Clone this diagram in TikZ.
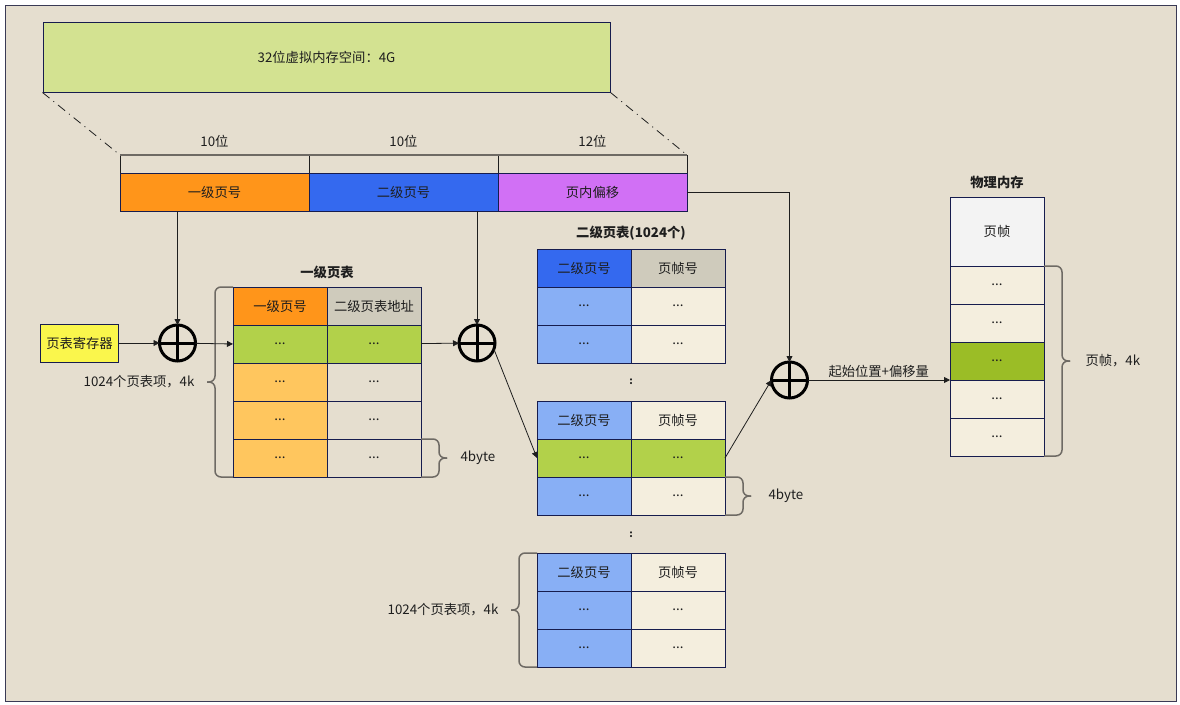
\documentclass[tikz,border=0pt]{standalone}
\usepackage{fontspec}
\setmainfont{Noto Sans CJK SC}
\usetikzlibrary{arrows.meta,positioning,calc}

% colours
\definecolor{bgpaper}{HTML}{E5DECF}
\definecolor{framec}{HTML}{3A3A55}
\definecolor{navy}{HTML}{161C4E}
\definecolor{txtc}{HTML}{1E1E1E}
\definecolor{vgreen}{HTML}{D3E291}
\definecolor{orangeA}{HTML}{FF951A}
\definecolor{blueA}{HTML}{3469EF}
\definecolor{purpleA}{HTML}{D170F5}
\definecolor{grayhd}{HTML}{CFCBBC}
\definecolor{yellowreg}{HTML}{FAF64C}
\definecolor{greenrow}{HTML}{B2D14A}
\definecolor{orangeL}{HTML}{FFC65E}
\definecolor{blueL}{HTML}{88AFF5}
\definecolor{cream}{HTML}{F4EEDE}
\definecolor{memgreen}{HTML}{9BBD26}
\definecolor{memtop}{HTML}{F3F3F3}
\definecolor{curlgray}{HTML}{6E6A64}

\tikzset{
  cell/.style={draw=navy, line width=1pt, minimum width=94pt, minimum height=38pt,
    inner sep=0pt, outer sep=0pt},
  field/.style={cell, minimum width=189pt},
  adder/.style={circle, draw=black, line width=3pt, minimum size=36pt,
    inner sep=0pt, outer sep=0pt},
  arr/.style={-{Triangle[length=6pt,width=6pt]}, line width=0.8pt, draw=txtc},
  curl/.style={draw=curlgray, line width=1.5pt, rounded corners=6pt},
  ttl/.style={font=\fontsize{13.3}{16}\selectfont\bfseries},
  dashdot/.style={draw=txtc, line width=0.8pt, dash pattern=on 9pt off 5pt on 1pt off 5pt},
}

% curly brackets: top anchor, bottom anchor, name of the tip
\newcommand{\leftcurl}[3]{%
  \draw[curl] (#1) -- ++(-18,0) -- ($(#1)!.5!(#2)+(-18,0)$) -- ++(-8,0) coordinate (#3);
  \draw[curl] (#3) -- ++(8,0) -- ($(#2)+(-18,0)$) -- (#2);
}
\newcommand{\rightcurl}[3]{%
  \draw[curl] (#1) -- ++(18,0) -- ($(#1)!.5!(#2)+(18,0)$) -- ++(8,0) coordinate (#3);
  \draw[curl] (#3) -- ++(-8,0) -- ($(#2)+(18,0)$) -- (#2);
}

\begin{document}
\begin{tikzpicture}[x=1pt,y=-1pt,font=\fontsize{13.3}{16}\selectfont,text=txtc]

% canvas and frame
\fill[white] (0,0) rectangle (1180,704);
\draw[draw=framec, fill=bgpaper, line width=0.8pt] (5,5) rectangle (1176,701);

% virtual address space
\node[draw=navy, line width=1pt, fill=vgreen, minimum width=567pt, minimum height=70pt,
  inner sep=0pt] (vspace) at (326.5,57) {32位虚拟内存空间：4G};

% bit ranges
\node[field, minimum height=18pt, draw=txtc] (b1) at (214.5,164) {};
\node[field, minimum height=18pt, draw=txtc, right=0pt of b1] (b2) {};
\node[field, minimum height=18pt, draw=txtc, right=0pt of b2] (b3) {};
\draw[curlgray, line width=1.8pt] (b1.north west) -- (b3.north east);
\node[above=4pt of b1] (w1) {10位};
\node[above=4pt of b2] (w2) {10位};
\node[above=4pt of b3] (w3) {12位};

\draw[dashdot] (vspace.south west) -- (b1.north west);
\draw[dashdot] (vspace.south east) -- (b3.north east);

% address fields
\node[field, fill=orangeA] (f1) at (214.5,192) {一级页号};
\node[field, fill=blueA, right=0pt of f1] (f2) {二级页号};
\node[field, fill=purpleA, right=0pt of f2] (f3) {页内偏移};

% page table register and adders
\node[draw=navy, line width=1pt, fill=yellowreg, minimum width=78pt, minimum height=38pt,
  inner sep=0pt] (reg) at (79.5,343) {页表寄存器};
\node[adder] (add1) at (177.5,343) {};
\node[adder] (add2) at (477,343) {};
\node[adder] (add3) at (789.5,380) {};
\foreach \c in {add1,add2,add3} {
  \draw[line width=3pt] (\c.north) -- (\c.south);
  \draw[line width=3pt] (\c.west) -- (\c.east);
}

% first level page table
\node[cell, fill=orangeA] (pt1a0) at (280,306) {一级页号};
\node[cell, fill=grayhd, right=0pt of pt1a0] (pt1b0) {二级页表地址};
\foreach \i/\fa/\fb in {1/greenrow/greenrow,2/orangeL/bgpaper,3/orangeL/bgpaper,4/orangeL/bgpaper} {
  \node[cell, fill=\fa] (pt1a\i) at (280,{306+38*\i}) {...};
  \node[cell, fill=\fb, right=0pt of pt1a\i] (pt1b\i) {...};
}
\node[ttl, above=5pt of pt1a0.north east] (t1) {一级页表};

% second level page tables
\node[cell, fill=blueA] (pt2aa0) at (584,268) {二级页号};
\node[cell, fill=grayhd, right=0pt of pt2aa0] (pt2ab0) {页帧号};
\foreach \i in {1,2} {
  \node[cell, fill=blueL] (pt2aa\i) at (584,{268+38*\i}) {...};
  \node[cell, fill=cream, right=0pt of pt2aa\i] (pt2ab\i) {...};
}
\node[ttl, above=5pt of pt2aa0.north east] (t2) {二级页表(1024个)};

\node[font=\bfseries] (dots1) at (631,382) {:};

\node[cell, fill=blueL] (pt2ba0) at (584,420) {二级页号};
\node[cell, fill=cream, right=0pt of pt2ba0] (pt2bb0) {页帧号};
\foreach \i/\fa/\fb in {1/greenrow/greenrow,2/blueL/cream} {
  \node[cell, fill=\fa] (pt2ba\i) at (584,{420+38*\i}) {...};
  \node[cell, fill=\fb, right=0pt of pt2ba\i] (pt2bb\i) {...};
}

\node[font=\bfseries] (dots2) at (631,535) {:};

\node[cell, fill=blueL] (pt2ca0) at (584,572) {二级页号};
\node[cell, fill=cream, right=0pt of pt2ca0] (pt2cb0) {页帧号};
\foreach \i in {1,2} {
  \node[cell, fill=blueL] (pt2ca\i) at (584,{572+38*\i}) {...};
  \node[cell, fill=cream, right=0pt of pt2ca\i] (pt2cb\i) {...};
}

% physical memory
\node[cell, fill=memtop, minimum height=69pt] (mem0) at (997,231.5) {页帧};
\foreach \i/\fm in {1/cream,2/cream,3/memgreen,4/cream,5/cream} {
  \node[cell, fill=\fm] (mem\i) at (997,{247+38*\i}) {...};
}
\node[ttl, above=5pt of mem0] (t3) {物理内存};

% brackets
\leftcurl{pt1a0.north west}{pt1a4.south west}{br1}
\rightcurl{pt1b4.north east}{pt1b4.south east}{br2}
\rightcurl{pt2bb2.north east}{pt2bb2.south east}{br3}
\leftcurl{pt2ca0.north west}{pt2ca2.south west}{br4}
\rightcurl{mem1.north east}{mem5.south east}{br5}
\node[left=9pt of br1] (n1) {1024个页表项，4k};
\node[right=10pt of br2] (n2) {4byte};
\node[right=14pt of br3] (n3) {4byte};
\node[left=9pt of br4] (n4) {1024个页表项，4k};
\node[right=12pt of br5] (n5) {页帧，4k};

% connectors
\draw[arr] (f1.south -| add1.north) -- (add1.north);
\draw[arr] (reg) -- (add1);
\draw[arr] (add1) -- (pt1a1.west);
\draw[arr] (f2.south -| add2.north) -- (add2.north);
\draw[arr] (pt1b1) -- (add2);
\draw[arr] (add2.-20) -- (pt2ba1.west);
\draw[arr] (f3.east) -| (add3.north);
\draw[arr] (pt2bb1.east) -- (add3.west);
\draw[arr] (add3) -- node[above=-1pt] (lbl) {起始位置+偏移量} (add3 -| mem3.west);

\end{tikzpicture}
\end{document}
